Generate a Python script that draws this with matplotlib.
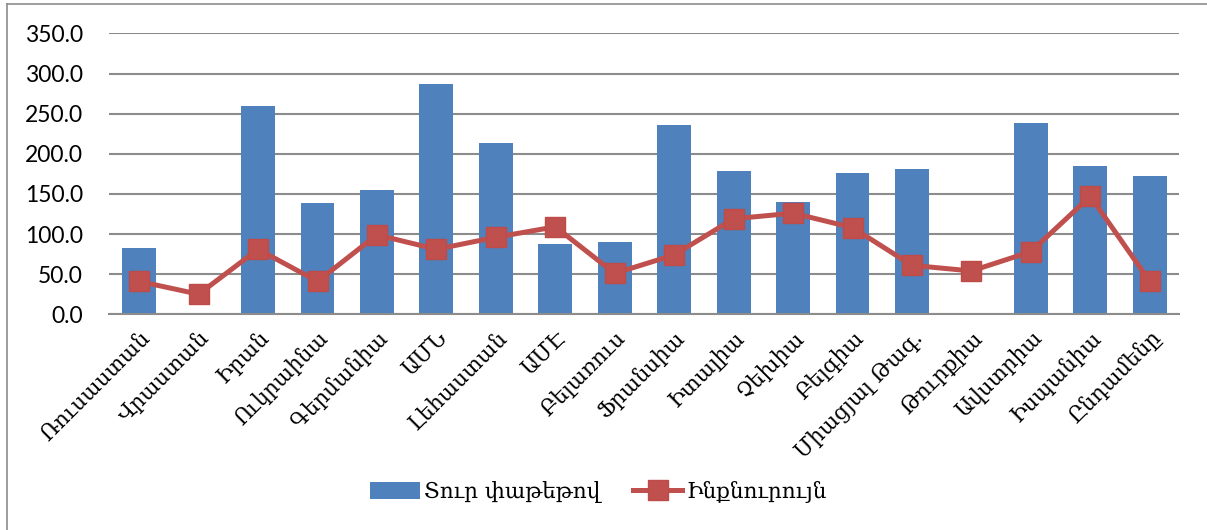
import matplotlib
matplotlib.use("Agg")
from matplotlib import pyplot as plt
from matplotlib.lines import Line2D

countries = [
    "Ռուսաստան", "Վրաստան", "Իրան", "Ուկրաինա", "Գերմանիա", "ԱՄՆ",
    "Լեհաստան", "ԱՄԷ", "Բելառուս", "Ֆրանսիա", "Իտալիա", "Չեխիա",
    "Բելգիա", "Միացյալ Թագ.", "Թուրքիա", "Ավստրիա", "Իսպանիա", "Ընդամենը",
]
package_tour = [83, 0, 259, 139, 155, 287, 213, 88, 90, 236, 179, 140,
                176, 181, 0, 238, 185, 172]
independent = [41, 25, 81, 41, 99, 81, 96, 109, 51, 74, 119, 126,
               108, 61, 54, 78, 147, 41]
y_ticks = [0, 50, 100, 150, 200, 250, 300, 350]

arm_font = ["DejaVu Serif", "DejaVu Sans"]
num_font = ["Lato", "DejaVu Sans"]

fig = plt.figure(figsize=(12.07, 5.30), dpi=100)
ax = fig.add_axes([0.0907, 0.407, 0.8865, 0.530])

x = list(range(len(countries)))
bars = ax.bar(x, package_tour, width=0.57, color="#4F81BD", zorder=2)
line, = ax.plot(x, independent, color="#C0504D", linewidth=3.6, marker="s",
                markersize=14, markerfacecolor="#C0504D",
                markeredgecolor="#BE4B48", zorder=3)

ax.set_xlim(-0.5, len(countries) - 0.5)
ax.set_ylim(0, 350)
ax.set_yticks(y_ticks)
ax.set_yticklabels([f"{v:.1f}" for v in y_ticks], fontsize=16.5, family=num_font)
ax.yaxis.grid(True, color="#8C8C8C", linewidth=1.5, zorder=0)
ax.set_axisbelow(True)

for side in ["top", "right", "left"]:
    ax.spines[side].set_visible(False)
ax.spines["bottom"].set_color("#8C8C8C")
ax.spines["bottom"].set_linewidth(1.5)
ax.tick_params(axis="y", length=0, pad=19)

ax.set_xticks(x)
ax.set_xticklabels(countries, rotation=45, ha="right", rotation_mode="anchor",
                   fontsize=15.5, family=arm_font)
ax.tick_params(axis="x", length=0, pad=9)

fig.legend([bars, line], ["Տուր փաթեթով", "Ինքնուրույն"],
           loc="center", bbox_to_anchor=(0.496, 0.072), ncol=2,
           frameon=False, prop={"family": arm_font, "size": 15.5},
           handlelength=2.3, handleheight=0.8, columnspacing=1.5,
           handletextpad=0.2)

# outer chart frame (left and top edges visible)
fig.add_artist(Line2D([7 / 1207, 7 / 1207], [0, 1 - 4 / 530],
                      transform=fig.transFigure, color="#8C8C8C", linewidth=1.2))
fig.add_artist(Line2D([7 / 1207, 1], [1 - 4 / 530, 1 - 4 / 530],
                      transform=fig.transFigure, color="#8C8C8C", linewidth=1.2))

fig.savefig("out.png", dpi=100)
